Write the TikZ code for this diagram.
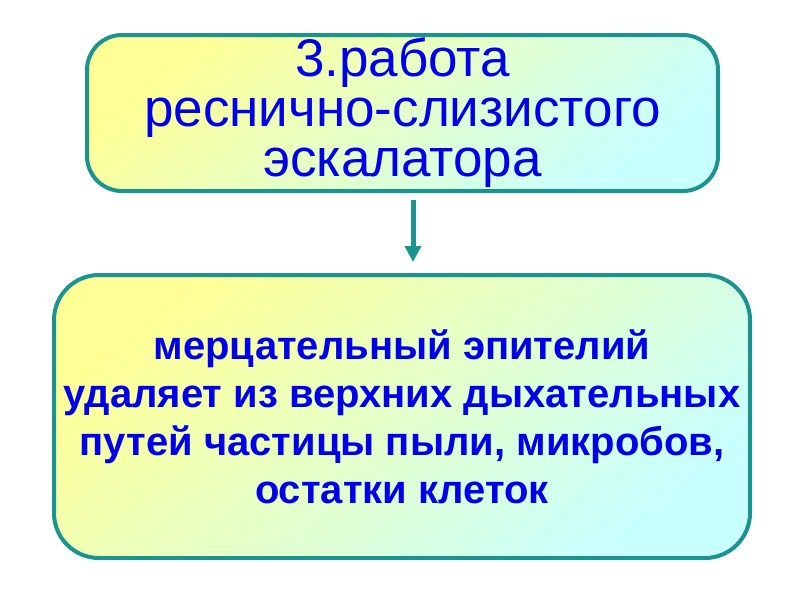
\documentclass[tikz,border=0pt]{standalone}
\usepackage{fontspec}
\setmainfont{Liberation Sans}
\usepackage{xcolor}
\usepackage{tikz}
\usetikzlibrary{arrows.meta}

\definecolor{boxyellow}{RGB}{255,255,150}
\definecolor{boxcyan}{RGB}{200,255,255}
\definecolor{edgeteal}{RGB}{25,148,144}
\definecolor{textblue}{RGB}{0,0,235}

\begin{document}
\begin{tikzpicture}[x=1pt, y=-1pt,
    gradbox/.style={draw=edgeteal, line width=4pt, inner sep=2pt, align=center,
      text=textblue, top color=boxyellow, bottom color=boxcyan, shading angle=40}]
    \useasboundingbox (0,0) rectangle (800,600);
    \node[gradbox, rounded corners=35pt, minimum width=631pt, minimum height=156pt,
      font=\fontsize{53}{50}\selectfont] (work) at (402.5,113)
      {3.работа\\реснично-слизистого\\эскалатора};
    \node[gradbox, rounded corners=45pt, minimum width=696pt, minimum height=283pt,
      font=\bfseries\fontsize{40}{48}\selectfont] (epith) at (402,416.5)
      {мерцательный эпителий\\удаляет из верхних дыхательных\\путей частицы пыли, микробов,\\остатки клеток};
    \draw[-{Triangle[width=16pt,length=16pt]}, edgeteal, line width=5pt]
      ([xshift=10.5pt,yshift=-7pt]work.south) -- ([xshift=11pt,yshift=11pt]epith.north);
\end{tikzpicture}
\end{document}
